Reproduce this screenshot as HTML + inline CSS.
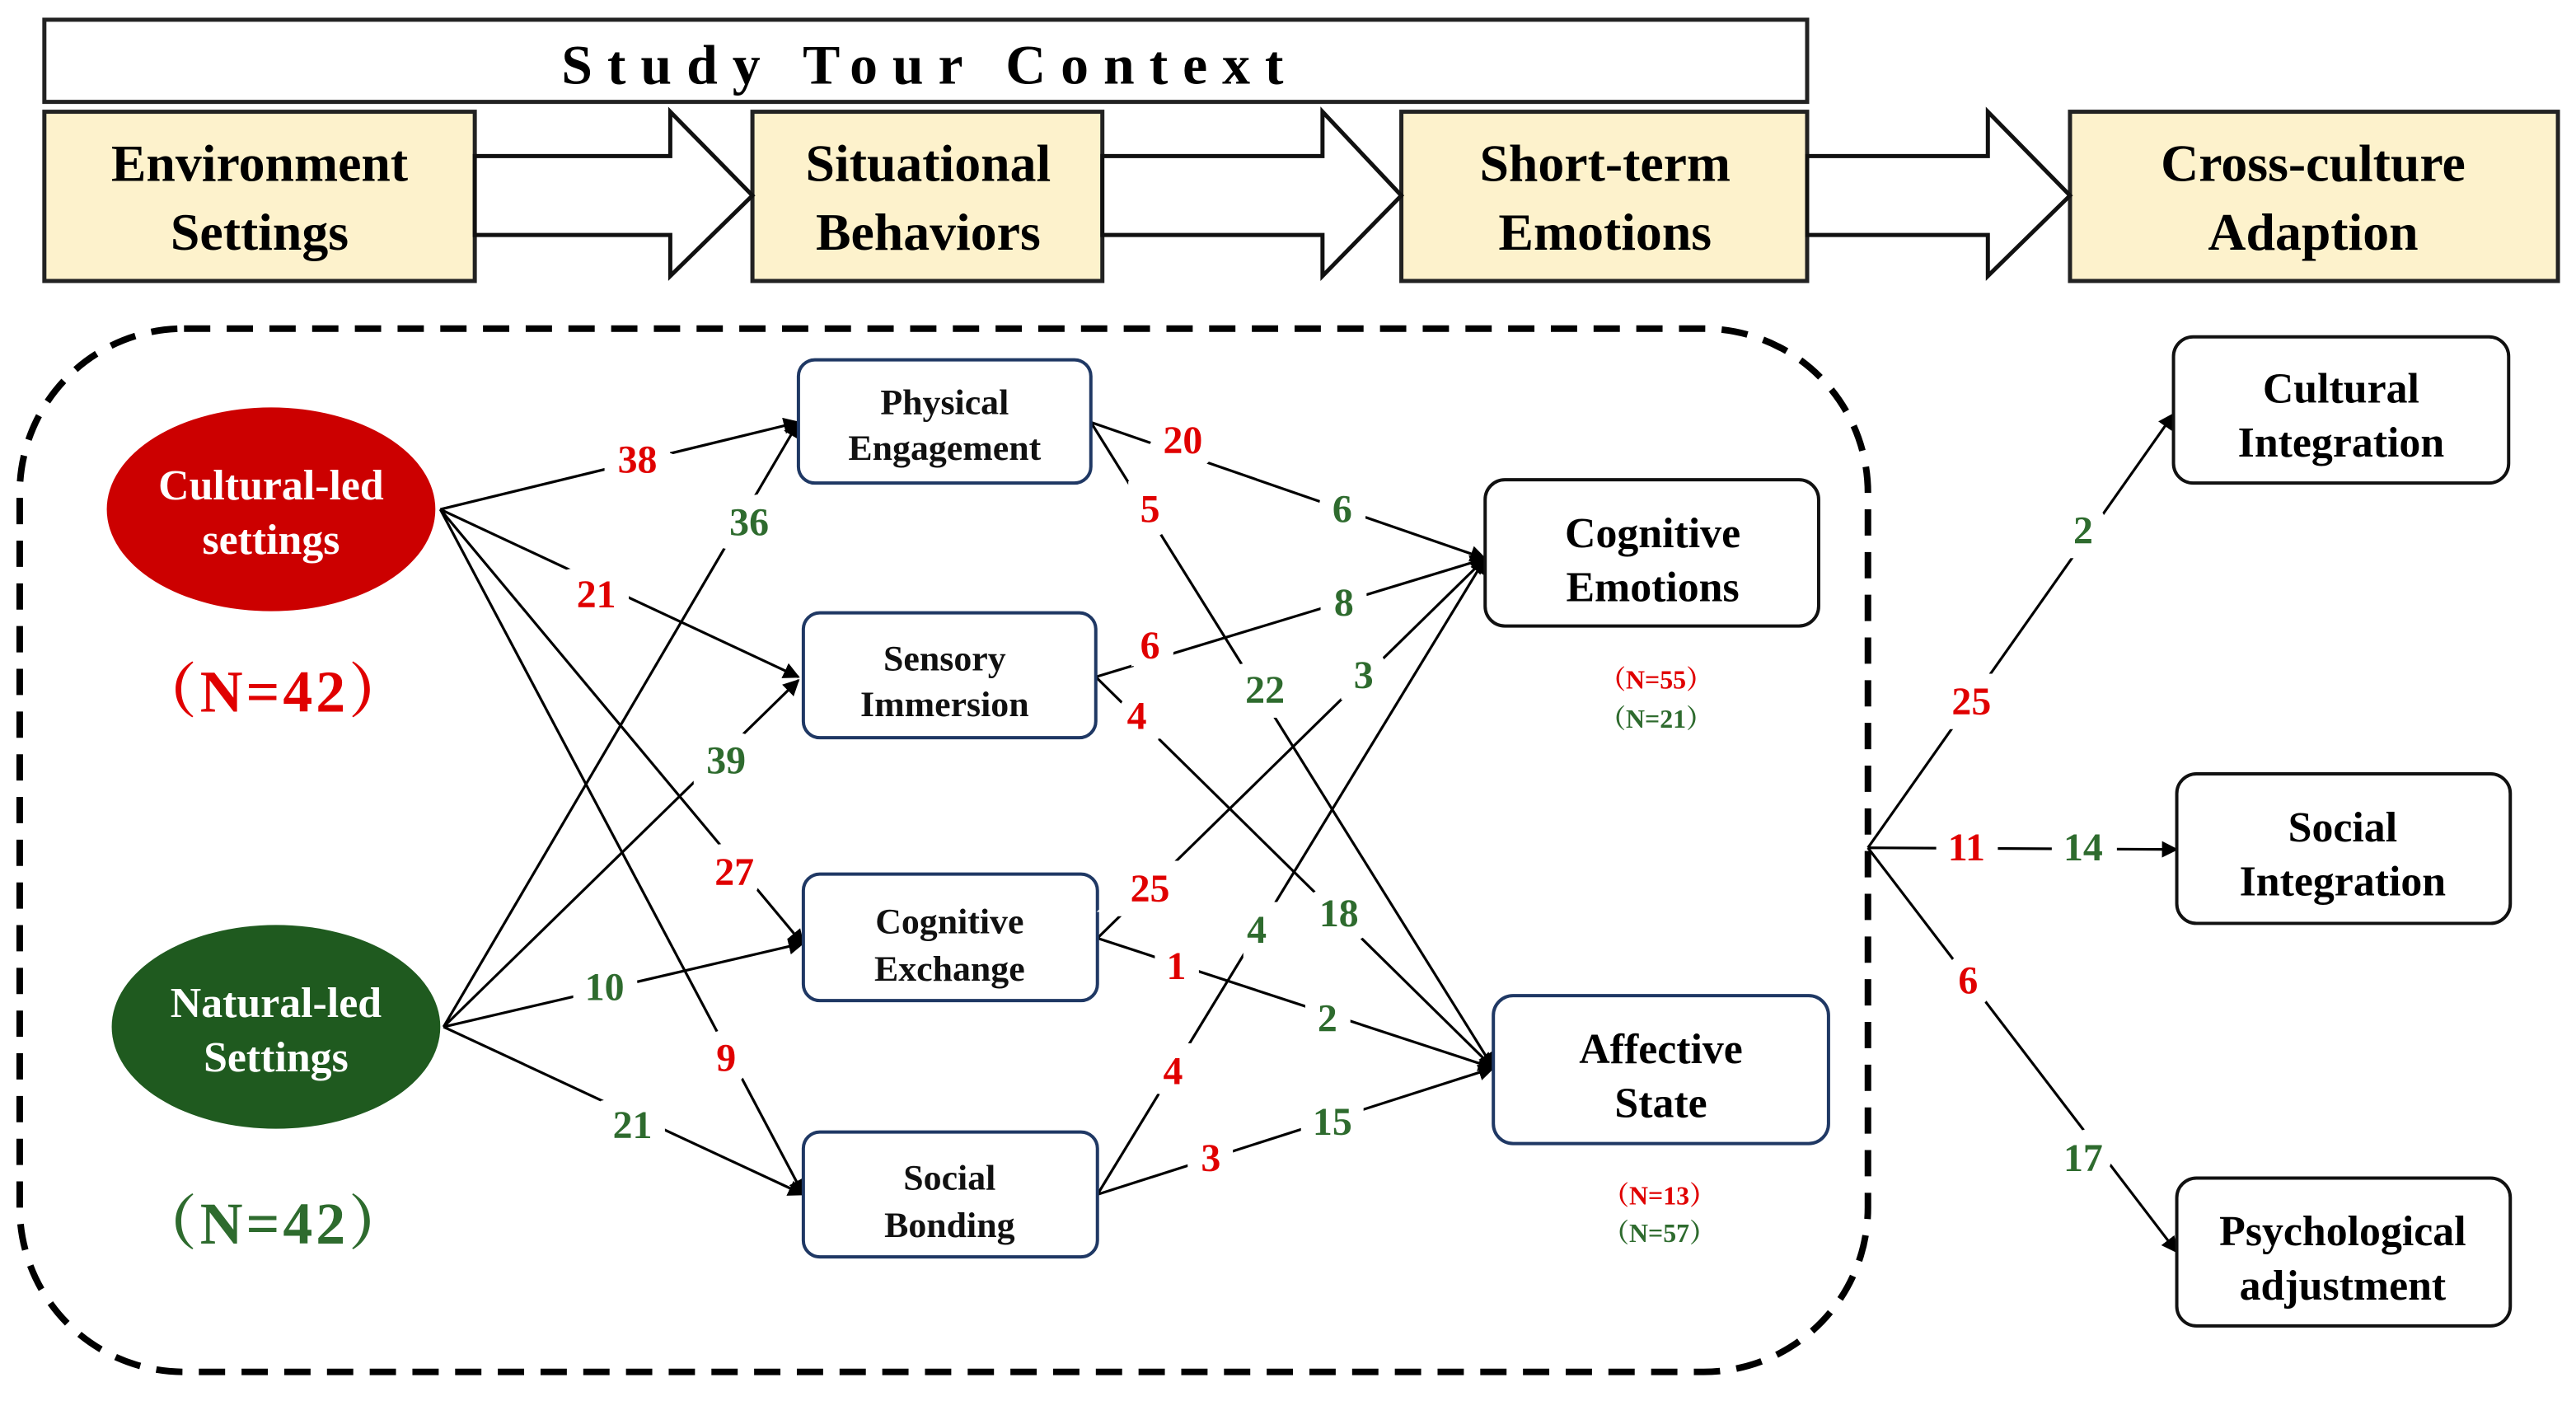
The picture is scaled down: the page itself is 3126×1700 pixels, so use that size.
<!DOCTYPE html>
<html><head><meta charset="utf-8"><style>
html,body{margin:0;padding:0;background:#fff;}
svg{display:block;}
text{font-family:"Liberation Serif","Noto Serif CJK SC",serif;font-weight:bold;}
.l{font-size:24px;text-anchor:middle;dominant-baseline:central;stroke:#fff;stroke-width:18px;paint-order:stroke;}
.r{fill:#e00000;} .g{fill:#2e6b2e;}
.bt{font-size:22px;text-anchor:middle;fill:#111;}
</style></head><body>
<svg width="3126" height="1700" viewBox="0 0 1568 852.7" xmlns="http://www.w3.org/2000/svg">
<defs>
<marker id="a" markerWidth="10" markerHeight="10" refX="9" refY="5" orient="auto" markerUnits="userSpaceOnUse" viewBox="0 0 10 10"><path d="M0,0 L10,5 L0,10 z" fill="#000"/></marker>
</defs>
<rect width="1568" height="853" fill="#fff"/>
<rect x="27" y="12" width="1073" height="50" fill="#fff" stroke="#222" stroke-width="2.5"/>
<text x="566" y="51" font-size="34" text-anchor="middle" letter-spacing="9" fill="#000">Study  Tour  Context</text>
<g fill="#fdf2cc" stroke="#222" stroke-width="2.5">
<rect x="27" y="68" width="262" height="103"/>
<rect x="458" y="68" width="213" height="103"/>
<rect x="853" y="68" width="247" height="103"/>
<rect x="1260" y="68" width="297" height="103"/>
</g>
<g fill="#fff" stroke="#111" stroke-width="2.5">
<path d="M289,95 H408 V68 L458,119 L408,168 V143 H289 Z"/>
<path d="M671,95 H805 V68 L853,119 L805,168 V143 H671 Z"/>
<path d="M1100,95 H1210 V68 L1260,119 L1210,168 V143 H1100 Z"/>
</g>
<g font-size="32" text-anchor="middle" fill="#000">
<text x="158" y="110">Environment</text><text x="158" y="152">Settings</text>
<text x="565" y="110">Situational</text><text x="565" y="152">Behaviors</text>
<text x="977" y="110">Short-term</text><text x="977" y="152">Emotions</text>
<text x="1408" y="110">Cross-culture</text><text x="1408" y="152">Adaption</text>
</g>
<rect x="12" y="200" width="1125" height="635" rx="100" fill="none" stroke="#000" stroke-width="4" stroke-dasharray="16,10"/>
<g stroke="#000" stroke-width="1.6" fill="none" marker-end="url(#a)">
<line x1="268" y1="310" x2="486" y2="257"/>
<line x1="268" y1="310" x2="486" y2="412"/>
<line x1="268" y1="310" x2="489" y2="575"/>
<line x1="268" y1="310" x2="489" y2="727"/>
<line x1="270" y1="625" x2="486" y2="257"/>
<line x1="270" y1="625" x2="486" y2="414"/>
<line x1="270" y1="625" x2="489" y2="574"/>
<line x1="270" y1="625" x2="489" y2="727"/>
<line x1="664" y1="257" x2="904" y2="340"/>
<line x1="664" y1="257" x2="909" y2="650"/>
<line x1="667" y1="412" x2="904" y2="340"/>
<line x1="667" y1="412" x2="909" y2="650"/>
<line x1="668" y1="571" x2="904" y2="340"/>
<line x1="668" y1="571" x2="909" y2="650"/>
<line x1="668" y1="727" x2="904" y2="340"/>
<line x1="668" y1="727" x2="909" y2="650"/>
<line x1="1137" y1="516" x2="1323" y2="252"/>
<line x1="1137" y1="516" x2="1325" y2="517"/>
<line x1="1137" y1="516" x2="1325" y2="762"/>
</g>
<ellipse cx="165" cy="310" rx="100" ry="62" fill="#cc0000"/>
<ellipse cx="168" cy="625" rx="100" ry="62" fill="#1f5a1f"/>
<g font-size="26" text-anchor="middle" fill="#fff">
<text x="165" y="304">Cultural-led</text><text x="165" y="337">settings</text>
<text x="168" y="619">Natural-led</text><text x="168" y="652">Settings</text>
</g>
<text x="167" y="433" font-size="36" text-anchor="middle" fill="#e00000" letter-spacing="2">（N=42）</text>
<text x="167" y="757" font-size="36" text-anchor="middle" fill="#2e6b2e" letter-spacing="2">（N=42）</text>
<g fill="#fff" stroke="#1f3864" stroke-width="2">
<rect x="486" y="219" width="178" height="75" rx="10"/>
<rect x="489" y="373" width="178" height="76" rx="10"/>
<rect x="489" y="532" width="179" height="77" rx="10"/>
<rect x="489" y="689" width="179" height="76" rx="10"/>
<rect x="909" y="606" width="204" height="90" rx="12"/>
</g>
<g fill="#fff" stroke="#111" stroke-width="2">
<rect x="904" y="292" width="203" height="89" rx="12"/>
<rect x="1323" y="205" width="204" height="89" rx="12"/>
<rect x="1325" y="471" width="203" height="91" rx="12"/>
<rect x="1325" y="717" width="203" height="90" rx="12"/>
</g>
<text class="bt" x="575" y="252">Physical</text><text class="bt" x="575" y="280">Engagement</text>
<text class="bt" x="575" y="408">Sensory</text><text class="bt" x="575" y="436">Immersion</text>
<text class="bt" x="578" y="568">Cognitive</text><text class="bt" x="578" y="597">Exchange</text>
<text class="bt" x="578" y="724">Social</text><text class="bt" x="578" y="753">Bonding</text>
<g font-size="26" text-anchor="middle" fill="#000">
<text x="1006" y="333">Cognitive</text><text x="1006" y="366">Emotions</text>
<text x="1011" y="647">Affective</text><text x="1011" y="680">State</text>
<text x="1425" y="245">Cultural</text><text x="1425" y="278">Integration</text>
<text x="1426" y="512">Social</text><text x="1426" y="545">Integration</text>
<text x="1426" y="758">Psychological</text><text x="1426" y="791">adjustment</text>
</g>
<g font-size="16" text-anchor="middle">
<text x="1008" y="419" fill="#e00000">（N=55）</text><text x="1008" y="443" fill="#2e6b2e">（N=21）</text>
<text x="1010" y="733" fill="#e00000">（N=13）</text><text x="1010" y="756" fill="#2e6b2e">（N=57）</text>
</g>
<text class="l r" x="388" y="280">38</text>
<text class="l r" x="363" y="362">21</text>
<text class="l r" x="447" y="531">27</text>
<text class="l r" x="442" y="644">9</text>
<text class="l g" x="456" y="318">36</text>
<text class="l g" x="442" y="463">39</text>
<text class="l g" x="368" y="601">10</text>
<text class="l g" x="385" y="685">21</text>
<text class="l r" x="720" y="268">20</text>
<text class="l g" x="817" y="310">6</text>
<text class="l r" x="700" y="310">5</text>
<text class="l g" x="770" y="420">22</text>
<text class="l r" x="700" y="393">6</text>
<text class="l g" x="818" y="367">8</text>
<text class="l r" x="692" y="436">4</text>
<text class="l g" x="815" y="556">18</text>
<text class="l r" x="700" y="541">25</text>
<text class="l g" x="830" y="411">3</text>
<text class="l r" x="716" y="588">1</text>
<text class="l g" x="808" y="620">2</text>
<text class="l r" x="714" y="652">4</text>
<text class="l g" x="765" y="566">4</text>
<text class="l r" x="737" y="705">3</text>
<text class="l g" x="811" y="683">15</text>
<text class="l r" x="1200" y="427">25</text>
<text class="l g" x="1268" y="323">2</text>
<text class="l r" x="1197" y="516">11</text>
<text class="l g" x="1268" y="516">14</text>
<text class="l r" x="1198" y="597">6</text>
<text class="l g" x="1268" y="705">17</text>
</svg>
</body></html>
